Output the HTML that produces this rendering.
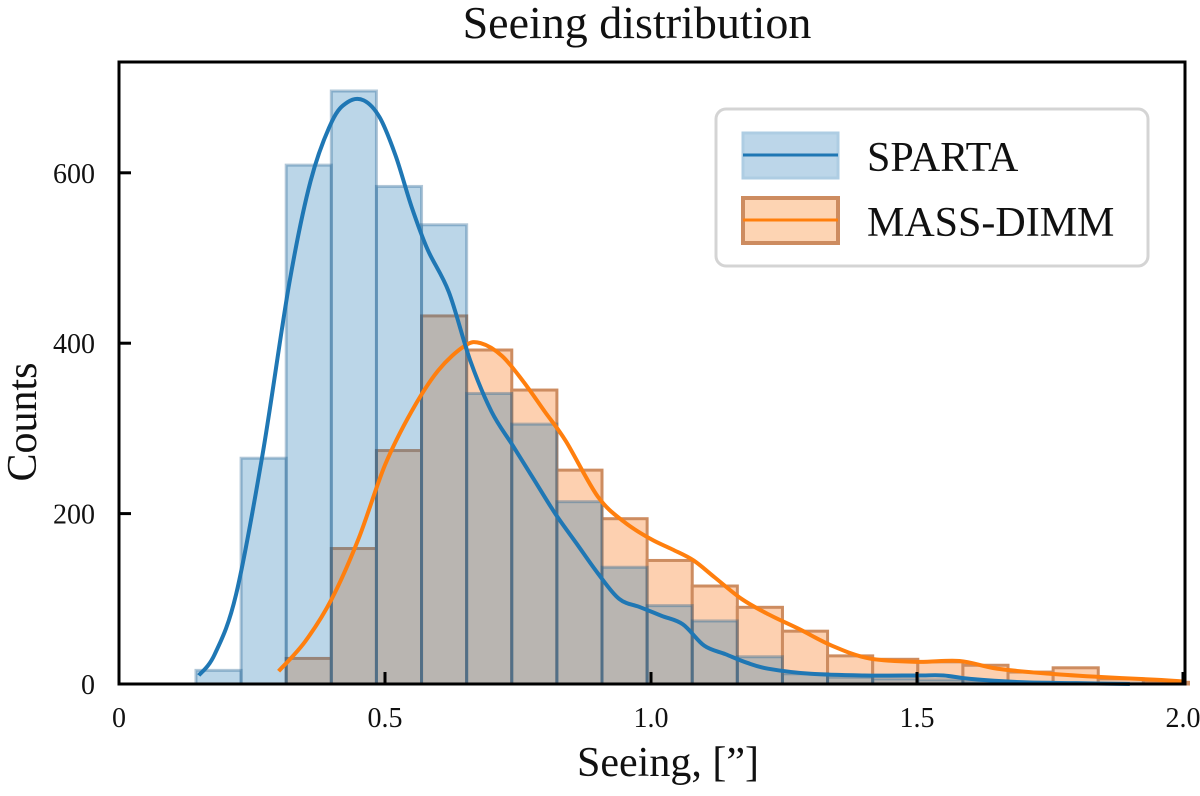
<!DOCTYPE html>
<html><head><meta charset="utf-8"><style>
body{margin:0;background:#fff}
svg text{font-family:"Liberation Serif",serif;fill:#111}
</style></head><body>
<svg id="chart" width="1200" height="791" viewBox="0 0 1200 791">
<text x="637" y="38" font-size="46" text-anchor="middle">Seeing distribution</text>
<g id="bars-orange"></g>
<g id="bars-blue"></g>
<g id="lines"></g>
<rect x="119" y="62" width="1066" height="622" fill="none" stroke="#000" stroke-width="3"/>
<g id="axes"></g>
<text x="668" y="776" font-size="42" text-anchor="middle">Seeing, [”]</text>
<text transform="translate(36,422) rotate(-90)" font-size="42" text-anchor="middle">Counts</text>
<g>
<rect x="716" y="109" width="432" height="157" rx="10" fill="#fff" fill-opacity="0.9" stroke="#d4d4d4" stroke-width="3"/>
<g>
<rect x="743" y="133" width="95" height="45" fill="#bcd6e9" stroke="#aecde3" stroke-width="3"/>
<line x1="743" y1="155" x2="838" y2="155" stroke="#1f77b4" stroke-width="3"/>
<text x="867" y="171" font-size="42">SPARTA</text></g>
<g>
<rect x="743" y="198" width="95" height="45" fill="#fdd4b3" stroke="#cd8c60" stroke-width="4"/>
<line x1="743" y1="220" x2="838" y2="220" stroke="#ff7f0e" stroke-width="3"/>
<text x="867" y="236" font-size="42">MASS-DIMM</text></g>
</g>
</svg>
<script>
const binStart = 0.1447;
const binWidth = 0.0848;
const spartaCounts = [16,265,609,696,584,539,341,305,214,137,92,74,32,12,8,6,5,3,2,1,1,0];
const massCounts = [0,0,30,159,274,432,392,345,251,194,145,115,90,62,33,29,26,22,14,19,6,2];
const spartaKdeX = [0.15,0.18,0.22,0.27,0.32,0.36,0.40,0.43,0.46,0.49,0.52,0.55,0.58,0.62,0.66,0.70,0.74,0.78,0.82,0.86,0.90,0.94,0.98,1.02,1.06,1.10,1.14,1.18,1.22,1.30,1.40,1.50,1.55,1.60,1.70,1.80,1.90];
const spartaKdeY = [10,35,105,270,470,590,660,683,685,665,620,560,510,460,380,320,280,240,200,165,130,100,90,80,70,45,35,25,18,12,10,10,10,6,2,1,0];
const massKdeX = [0.30,0.35,0.40,0.45,0.50,0.55,0.60,0.65,0.68,0.72,0.76,0.80,0.84,0.90,0.95,1.00,1.04,1.08,1.12,1.17,1.22,1.28,1.34,1.41,1.50,1.58,1.65,1.75,1.85,1.95,2.00];
const massKdeY = [15,50,100,170,257,320,368,397,400,385,355,320,285,220,190,170,158,145,125,100,82,64,45,30,26,27,18,12,8,5,3];
const xTicks = [0,0.5,1.0,1.5,2.0];
const xTickLabels = ["0","0.5","1.0","1.5","2.0"];
const yTicks = [0,200,400,600];
const yTickLabels = ["0","200","400","600"];

const NS="http://www.w3.org/2000/svg";
function xs(v){return 119+v*532;}
function ys(v){return 684-v*0.852;}
function mk(tag,attrs,parent){const e=document.createElementNS(NS,tag);for(const k in attrs)e.setAttribute(k,attrs[k]);parent.appendChild(e);return e;}

const go=document.getElementById('bars-orange');
massCounts.forEach((c,i)=>{
  if(c<=0)return;
  const x0=xs(binStart+i*binWidth), x1=xs(binStart+(i+1)*binWidth);
  const r=mk('rect',{x:x0,y:ys(c),width:x1-x0,height:684-ys(c),fill:'#fdd0b0',stroke:'#cd8c60','stroke-width':3},go);
  
  
});
const gb=document.getElementById('bars-blue');
spartaCounts.forEach((c,i)=>{
  if(c<=0)return;
  const x0=xs(binStart+i*binWidth), x1=xs(binStart+(i+1)*binWidth);
  const r=mk('rect',{x:x0,y:ys(c),width:x1-x0,height:684-ys(c),fill:'#1f77b4','fill-opacity':0.3,stroke:'#1f5f90','stroke-opacity':0.35,'stroke-width':3},gb);
  
  
});
const gl=document.getElementById('lines');
function line(X,Y,color,name){
  const pts=X.map((x,i)=>[xs(x),ys(Y[i])]);
  let d='M'+pts[0][0]+','+pts[0][1];
  for(let i=0;i<pts.length-1;i++){
    const p0=pts[Math.max(0,i-1)],p1=pts[i],p2=pts[i+1],p3=pts[Math.min(pts.length-1,i+2)];
    const c1=[p1[0]+(p2[0]-p0[0])/6,p1[1]+(p2[1]-p0[1])/6];
    const c2=[p2[0]-(p3[0]-p1[0])/6,p2[1]-(p3[1]-p1[1])/6];
    d+=' C'+c1+' '+c2+' '+p2;
  }
  const p=mk('path',{d:d,fill:'none',stroke:color,'stroke-width':4,'stroke-linejoin':'round'},gl);
  
  
}
line(massKdeX,massKdeY,'#ff7f0e','mass-dimm-kde-line');
line(spartaKdeX,spartaKdeY,'#1f77b4','sparta-kde-line');

const ga=document.getElementById('axes');
xTicks.forEach((t,i)=>{
  const l=mk('line',{x1:xs(t),x2:xs(t),y1:684,y2:672,stroke:'#000','stroke-width':3},ga);
  
  
  const tx=mk('text',{x:xs(t),y:727,'font-size':28,'text-anchor':'middle'},ga);
  tx.textContent=xTickLabels[i];
  
  
});
yTicks.forEach((t,i)=>{
  const l=mk('line',{x1:119,x2:131,y1:ys(t),y2:ys(t),stroke:'#000','stroke-width':3},ga);
  
  
  const tx=mk('text',{x:95,y:ys(t)+10,'font-size':28,'text-anchor':'end'},ga);
  tx.textContent=yTickLabels[i];
  
  
});
</script>
</body></html>
